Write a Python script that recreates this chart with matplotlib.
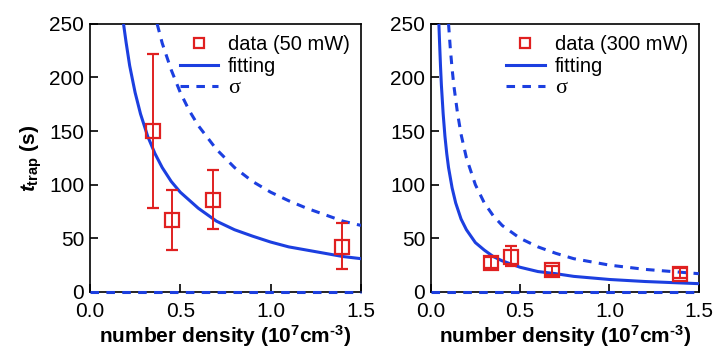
import matplotlib
matplotlib.use("Agg")
import matplotlib.pyplot as plt

plt.rcParams["font.family"] = ["Liberation Sans", "DejaVu Sans"]
plt.rcParams["mathtext.fontset"] = "custom"
plt.rcParams["mathtext.rm"] = "Liberation Sans:bold"
plt.rcParams["mathtext.it"] = "Liberation Sans:italic:bold"
plt.rcParams["mathtext.bf"] = "Liberation Sans:bold"

BLUE = "#1c3fe0"
RED = "#e02020"
DASH = (0, (2.8, 2.4))

# left panel: 50 mW
x_50 = [0.35, 0.455, 0.683, 1.393]
y_50 = [150, 67, 86, 42]
lo_50 = [78, 39, 59, 21]
hi_50 = [222, 95, 114, 64]
fit_x_50 = [0.186, 0.2, 0.22, 0.25, 0.28, 0.32, 0.36, 0.4, 0.45, 0.5, 0.6, 0.7,
            0.8, 0.9, 1.0, 1.1, 1.2, 1.3, 1.4, 1.5]
fit_y_50 = [250, 233, 211, 186, 166, 145, 129, 116, 103, 93, 78, 66,
            58, 52, 46.5, 42, 39, 36, 33, 31]
sig_x_50 = [0.372, 0.4, 0.45, 0.5, 0.55, 0.6, 0.7, 0.8, 0.9, 1.0, 1.1, 1.2,
            1.3, 1.4, 1.5]
sig_y_50 = [250, 232, 207, 186, 169, 155, 133, 116, 103, 93, 85, 78, 72, 66, 62]

# right panel: 300 mW
x_300 = [0.339, 0.45, 0.678, 1.394]
y_300 = [27, 33, 20, 17]
lo_300 = [22, 24, 16, 13]
hi_300 = [33, 43, 24, 22]
fit_x_300 = [0.046, 0.05, 0.055, 0.06, 0.07, 0.08, 0.09, 0.1, 0.12, 0.14, 0.17,
             0.2, 0.25, 0.3, 0.35, 0.4, 0.5, 0.6, 0.7, 0.8, 1.0, 1.2, 1.5]
fit_y_300 = [250, 232, 211, 193, 166, 145, 129, 116, 97, 83, 68,
             58, 46, 39, 33, 29, 23, 19, 17, 14.5, 11.6, 9.7, 7.7]
sig_x_300 = [0.1, 0.11, 0.12, 0.13, 0.15, 0.17, 0.2, 0.25, 0.3, 0.35, 0.4, 0.5,
             0.6, 0.7, 0.8, 1.0, 1.2, 1.5]
sig_y_300 = [250, 227, 208, 192, 167, 147, 125, 100, 83, 71, 62, 50,
             42, 36, 31, 25, 21, 17]

x_ticks = [0.0, 0.5, 1.0, 1.5]
y_ticks = [0, 50, 100, 150, 200, 250]

fig = plt.figure(figsize=(7.25, 3.56), dpi=100)
ax1 = fig.add_axes([0.124, 0.180, 0.374, 0.753])
ax2 = fig.add_axes([0.594, 0.180, 0.370, 0.753])


def draw(ax, x, y, lo, hi, fx, fy, sx, sy, power):
    yerr = [[v - l for v, l in zip(y, lo)], [h - v for v, h in zip(y, hi)]]
    eb = ax.errorbar(x, y, yerr=yerr, fmt="s", ms=10.5, mfc="none", mec=RED, mew=1.6,
                     ecolor=RED, elinewidth=1.4, capsize=4.5, capthick=1.4, zorder=4)
    fit, = ax.plot(fx, fy, color=BLUE, lw=2.2, zorder=3)
    sig, = ax.plot(sx, sy, color=BLUE, lw=2.2, ls=DASH, zorder=3)
    ax.axhline(0, color=BLUE, lw=2.2, ls=DASH, clip_on=False, zorder=10)

    ax.set_xlim(0, 1.5)
    ax.set_ylim(0, 250)
    ax.set_xticks(x_ticks)
    ax.set_xticklabels([f"{t:.1f}" for t in x_ticks])
    ax.set_yticks(y_ticks)
    ax.tick_params(direction="in", length=6, width=1.2, labelsize=15)
    ax.tick_params(axis="x", pad=7)
    ax.tick_params(axis="y", pad=4)
    for sp in ax.spines.values():
        sp.set_linewidth(1.2)
    ax.set_xlabel("number density (10$^{\\mathbf{7}}$cm$^{\\mathbf{\u2010}\\mathbf{3}}$)",
                  fontsize=15, fontweight="bold", labelpad=2)

    leg = ax.legend([eb[0], fit, sig], [f"data ({power})", "fitting", "σ"],
                    loc="upper right", frameon=False, fontsize=14.5,
                    handlelength=1.9, handletextpad=0.5, labelspacing=0.15,
                    borderaxespad=0.15, markerscale=0.75)
    leg.get_texts()[2].set_family("Liberation Serif")
    leg.get_texts()[2].set_fontsize(16)


draw(ax1, x_50, y_50, lo_50, hi_50, fit_x_50, fit_y_50, sig_x_50, sig_y_50, "50 mW")
draw(ax2, x_300, y_300, lo_300, hi_300, fit_x_300, fit_y_300, sig_x_300, sig_y_300, "300 mW")

ax1.set_ylabel(r"$t_{\mathbf{trap}}$ (s)", fontsize=15, fontweight="bold", labelpad=4)

fig.savefig("out.png", dpi=100)
